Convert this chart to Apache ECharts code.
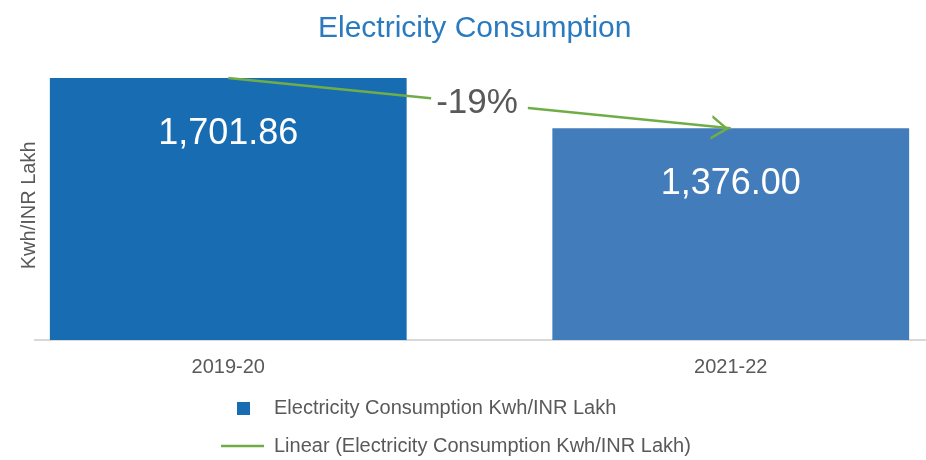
<!DOCTYPE html>
<html>
<head>
<meta charset="utf-8">
<script src="https://cdn.jsdelivr.net/npm/echarts@6/dist/echarts.min.js"></script>
<style>
  html, body { margin: 0; padding: 0; background: #ffffff; }
  #chart { width: 926px; height: 460px; }
</style>
</head>
<body>
<div id="chart"></div>
<script>
// Chart data
const chartTitle = 'Electricity Consumption';
const categories = ['2019-20', '2021-22'];
const consumption = [1701.86, 1376.00];
const barName = 'Electricity Consumption Kwh/INR Lakh';
const trendName = 'Linear (Electricity Consumption Kwh/INR Lakh)';
const axisName = 'Kwh/INR Lakh';

// Styling
const barColors = ['#176CB2', '#437CBA'];
const trendColor = '#70AD47';
const textGray = '#595959';
const font = '"Liberation Sans", Arial, sans-serif';

// Least-squares linear trend over the category index
function linearTrend(values) {
  const n = values.length;
  const xs = values.map((_, i) => i);
  const mx = xs.reduce((a, b) => a + b, 0) / n;
  const my = values.reduce((a, b) => a + b, 0) / n;
  let sxy = 0, sxx = 0;
  xs.forEach((x, i) => { sxy += (x - mx) * (values[i] - my); sxx += (x - mx) * (x - mx); });
  const slope = sxy / sxx;
  return xs.map(x => my + slope * (x - mx));
}
const trend = linearTrend(consumption);
const pctChange = Math.round((consumption[consumption.length - 1] - consumption[0]) / consumption[0] * 100);

const fmt = v => v.toLocaleString('en-US', { minimumFractionDigits: 2, maximumFractionDigits: 2 });

// Open chevron arrowhead pointing right
const chevron = 'path://M0,0 L21,12.5 L0,25 L0,22 L15.96,12.5 L0,3 Z';

const chart = echarts.init(document.getElementById('chart'), null, { renderer: 'canvas' });

const option = {
  animation: false,
  backgroundColor: '#ffffff',
  textStyle: { fontFamily: font },
  title: {
    text: chartTitle,
    left: 318,
    top: 14,
    padding: 0,
    textStyle: { fontFamily: font, fontSize: 30, fontWeight: 'normal', color: '#2A7ABF' }
  },
  grid: {
    left: -23, top: 70.6, width: 1005, height: 269.4,
    containLabel: false,
    outerBoundsMode: 'none'
  },
  xAxis: {
    type: 'category',
    data: categories,
    axisLine: { show: false },
    axisTick: { show: false },
    axisLabel: { fontSize: 20, color: textGray, margin: 17, fontFamily: font }
  },
  yAxis: {
    type: 'value',
    min: 0,
    max: 1750,
    offset: -62,
    axisLine: { show: false },
    axisTick: { show: false },
    axisLabel: { show: false },
    splitLine: { show: false },
    name: axisName,
    nameLocation: 'middle',
    nameGap: 0,
    nameTextStyle: { fontSize: 20, color: textGray, fontFamily: font }
  },
  legend: [
    {
      data: [barName],
      left: 237,
      top: 398.5,
      padding: 0,
      itemWidth: 13,
      itemHeight: 13,
      icon: 'rect',
      selectedMode: false,
      textStyle: { fontSize: 20, color: textGray, fontFamily: font, padding: [0, 0, 0, 19] }
    },
    {
      data: [trendName],
      left: 221,
      top: 436,
      padding: 0,
      itemWidth: 43,
      itemHeight: 2.5,
      icon: 'rect',
      selectedMode: false,
      textStyle: { fontSize: 20, color: textGray, fontFamily: font, padding: [0, 0, 0, 5] }
    }
  ],
  graphic: [
    {
      id: 'baseline',
      type: 'line',
      shape: { x1: 34, y1: 340, x2: 926, y2: 340 },
      style: { stroke: '#D9D9D9', lineWidth: 2 },
      z: 1
    }
  ],
  series: [
    {
      name: barName,
      type: 'bar',
      data: consumption.map((v, i) => ({ value: v, itemStyle: { color: barColors[i] } })),
      itemStyle: { color: barColors[0] },
      barCategoryGap: '29%',
      z: 2,
      label: {
        show: true,
        position: 'insideTop',
        distance: 38,
        color: '#ffffff',
        fontSize: 36,
        fontFamily: font,
        formatter: p => fmt(p.value)
      }
    },
    {
      name: trendName,
      type: 'line',
      data: trend,
      symbol: 'none',
      z: 3,
      lineStyle: { color: trendColor, width: 2.5 },
      itemStyle: { color: trendColor },
      markPoint: {
        silent: true,
        data: [
          {
            coord: [trend.length - 1, trend[trend.length - 1]],
            symbol: chevron,
            symbolSize: [21, 25],
            symbolKeepAspect: true,
            symbolOffset: ['-50%', 0],
            symbolRotate: -5.3,
            itemStyle: { color: trendColor },
            label: { show: false }
          }
        ]
      }
    }
  ]
};

chart.setOption(option);

// Percent-change callout sits on the midpoint of the trend line
const pStart = chart.convertToPixel({ seriesIndex: 1 }, [0, trend[0]]);
const pEnd = chart.convertToPixel({ seriesIndex: 1 }, [trend.length - 1, trend[trend.length - 1]]);
chart.setOption({
  graphic: [
    {
      id: 'changeLabel',
      type: 'text',
      x: (pStart[0] + pEnd[0]) / 2,
      y: (pStart[1] + pEnd[1]) / 2,
      z: 10,
      style: {
        text: (pctChange > 0 ? '+' : '') + pctChange + '%',
        align: 'center',
        verticalAlign: 'middle',
        fontSize: 35,
        fontFamily: font,
        fill: textGray,
        backgroundColor: '#ffffff',
        padding: [2, 10, 2, 5]
      }
    }
  ]
});
</script>
</body>
</html>
